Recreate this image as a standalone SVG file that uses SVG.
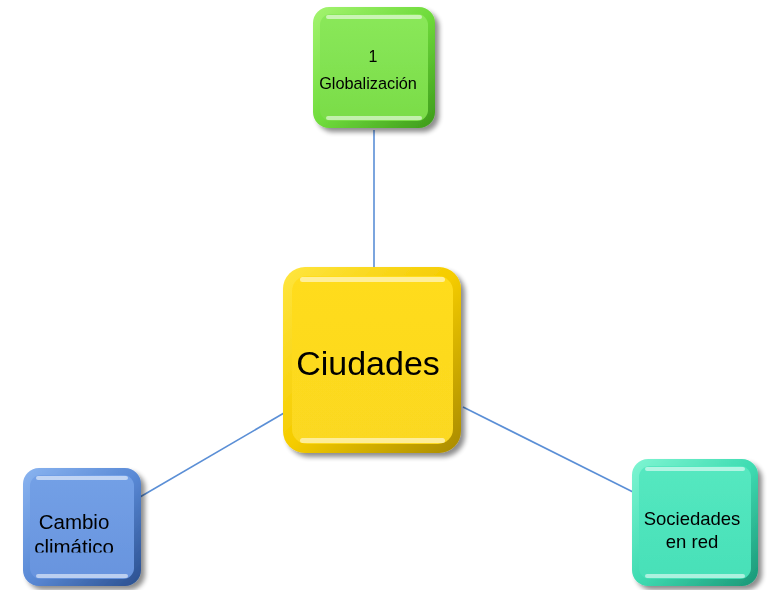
<svg xmlns="http://www.w3.org/2000/svg" width="774" height="590" viewBox="0 0 774 590">
<defs>
<style>
.conn{stroke:#5b8fd6;stroke-width:1.6;fill:none}
.lbl{font-family:"Liberation Sans","Open Sans",sans-serif;fill:#000;text-anchor:middle}
.hl{fill:#fff;opacity:0.55}
</style>
<filter id="sh" x="-20%" y="-20%" width="140%" height="140%">
<feGaussianBlur in="SourceAlpha" stdDeviation="2.5"/>
<feOffset dx="4" dy="4" result="b"/>
<feComponentTransfer><feFuncA type="linear" slope="0.45"/></feComponentTransfer>
<feMerge><feMergeNode/><feMergeNode in="SourceGraphic"/></feMerge>
</filter>
<linearGradient id="gG" x1="0" y1="0" x2="1" y2="1"><stop offset="0" stop-color="#a4f470"/><stop offset="0.5" stop-color="#70dc3c"/><stop offset="1" stop-color="#3c9a1a"/></linearGradient>
<linearGradient id="gGf" x1="0" y1="0" x2="0" y2="1"><stop offset="0" stop-color="#8ae85a"/><stop offset="1" stop-color="#7adc48"/></linearGradient>
<linearGradient id="gY" x1="0" y1="0" x2="1" y2="1"><stop offset="0" stop-color="#ffe640"/><stop offset="0.5" stop-color="#f5cc00"/><stop offset="1" stop-color="#a88a00"/></linearGradient>
<linearGradient id="gYf" x1="0" y1="0" x2="0" y2="1"><stop offset="0" stop-color="#ffdc1e"/><stop offset="1" stop-color="#fbd820"/></linearGradient>
<linearGradient id="gB" x1="0" y1="0" x2="1" y2="1"><stop offset="0" stop-color="#8ab4f0"/><stop offset="0.5" stop-color="#5a8ad6"/><stop offset="1" stop-color="#2a4f8e"/></linearGradient>
<linearGradient id="gBf" x1="0" y1="0" x2="0" y2="1"><stop offset="0" stop-color="#73a0e6"/><stop offset="1" stop-color="#6894de"/></linearGradient>
<linearGradient id="gT" x1="0" y1="0" x2="1" y2="1"><stop offset="0" stop-color="#7ff5d2"/><stop offset="0.5" stop-color="#3fdcb2"/><stop offset="1" stop-color="#1a9676"/></linearGradient>
<linearGradient id="gTf" x1="0" y1="0" x2="0" y2="1"><stop offset="0" stop-color="#55e8c0"/><stop offset="1" stop-color="#48e0b8"/></linearGradient>
<clipPath id="cc"><rect x="20" y="460" width="130" height="92.5"/></clipPath>
</defs>

<g id="connectors">
<line class="conn" x1="374" y1="130" x2="374" y2="268"/>
<line class="conn" x1="284" y1="413" x2="140" y2="497"/>
<line class="conn" x1="463" y1="407" x2="633" y2="492"/>
</g>

<g id="node-globalizacion" filter="url(#sh)">
<rect x="313" y="7" width="122" height="121" rx="16" fill="url(#gG)"/>
<rect x="320" y="14" width="108" height="107" rx="11" fill="url(#gGf)"/>
<rect x="326" y="15" width="96" height="4" rx="2" class="hl"/>
<rect x="326" y="116" width="96" height="4" rx="2" class="hl"/>
<text class="lbl" x="373" y="62" font-size="16">1</text>
<text class="lbl" x="368" y="89" font-size="16.3">Globalización</text>
</g>

<g id="node-ciudades" filter="url(#sh)">
<rect x="283" y="267" width="178" height="186" rx="22" fill="url(#gY)"/>
<rect x="292" y="276" width="161" height="168" rx="15" fill="url(#gYf)"/>
<rect x="300" y="277" width="145" height="5" rx="2.5" class="hl"/>
<rect x="300" y="438" width="145" height="5" rx="2.5" class="hl"/>
<text class="lbl" x="368" y="375" font-size="34">Ciudades</text>
</g>

<g id="node-cambio" filter="url(#sh)">
<rect x="23" y="468" width="118" height="118" rx="16" fill="url(#gB)"/>
<rect x="30" y="475" width="104" height="104" rx="11" fill="url(#gBf)"/>
<rect x="36" y="476" width="92" height="4" rx="2" class="hl"/>
<rect x="36" y="574" width="92" height="4" rx="2" class="hl"/>
<g clip-path="url(#cc)">
<text class="lbl" x="74" y="529" font-size="20.5">Cambio</text>
<text class="lbl" x="74" y="554" font-size="20.5">climático</text>
</g>
</g>

<g id="node-sociedades" filter="url(#sh)">
<rect x="632" y="459" width="126" height="127" rx="16" fill="url(#gT)"/>
<rect x="639" y="466" width="112" height="113" rx="11" fill="url(#gTf)"/>
<rect x="645" y="467" width="100" height="4" rx="2" class="hl"/>
<rect x="645" y="574" width="100" height="4" rx="2" class="hl"/>
<text class="lbl" x="692" y="525" font-size="18.5">Sociedades</text>
<text class="lbl" x="692" y="548" font-size="18.5">en red</text>
</g>
</svg>
